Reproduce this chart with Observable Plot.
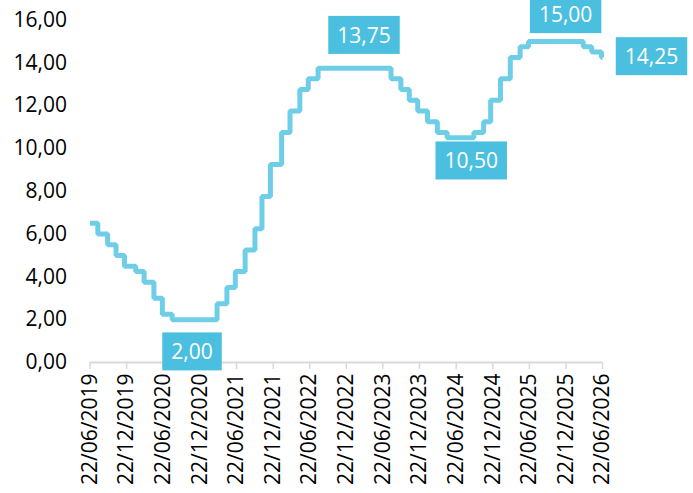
<!DOCTYPE html>
<html>
<head>
<meta charset="utf-8">
<script src="https://cdn.jsdelivr.net/npm/d3@7"></script>
<script src="https://cdn.jsdelivr.net/npm/@observablehq/plot@0.6"></script>
<style>
  html, body { margin: 0; padding: 0; background: #fff; }
  #chart { width: 693px; height: 493px; }
</style>
</head>
<body>
<div id="chart"></div>
<script>
// Selic rate change dates (step-after) and values (%)
const changeDates = [
  "2019-06-22","2019-07-31","2019-09-18","2019-10-30","2019-12-11",
  "2020-02-05","2020-03-18","2020-05-06","2020-06-17","2020-08-05",
  "2021-03-17","2021-05-05","2021-06-16","2021-08-04","2021-09-22",
  "2021-10-27","2021-12-08","2022-02-02","2022-03-16","2022-05-04",
  "2022-06-15","2022-08-03","2023-08-02","2023-09-20","2023-11-01",
  "2023-12-13","2024-01-31","2024-03-20","2024-05-08","2024-09-18",
  "2024-11-06","2024-12-11","2025-01-29","2025-03-19","2025-05-07",
  "2025-06-18","2026-03-18","2026-04-29","2026-06-17","2026-06-22"
];
const rates = [
  6.50, 6.00, 5.50, 5.00, 4.50,
  4.25, 3.75, 3.00, 2.25, 2.00,
  2.75, 3.50, 4.25, 5.25, 6.25,
  7.75, 9.25, 10.75, 11.75, 12.75,
  13.25, 13.75, 13.25, 12.75, 12.25,
  11.75, 11.25, 10.75, 10.50, 10.75,
  11.25, 12.25, 13.25, 14.25, 14.75,
  15.00, 14.75, 14.50, 14.25, 14.25
];

// x-axis ticks
const tickDates = [
  "2019-06-22","2019-12-22","2020-06-22","2020-12-22","2021-06-22",
  "2021-12-22","2022-06-22","2022-12-22","2023-06-22","2023-12-22",
  "2024-06-22","2024-12-22","2025-06-22","2025-12-22","2026-06-22"
];
const yTicks = [0, 2, 4, 6, 8, 10, 12, 14, 16];

// highlighted value labels
const labelDates = ["2020-11-12", "2023-03-20", "2024-09-05", "2025-12-20", "2026-06-22"];
const labelValues = [2.00, 13.75, 10.50, 15.00, 14.25];
const labelDy = [33, -32, 24, -26, 0];
const labelDx = [0, 0, 0, 0, 49];

const parse = d3.utcParse("%Y-%m-%d");
const fmtDate = d3.utcFormat("%d/%m/%Y");
const fmtNum = v => v.toFixed(2).replace(".", ",");

const series = changeDates.map((d, i) => ({date: parse(d), rate: rates[i]}));
const labels = labelDates.map((d, i) => ({date: parse(d), value: labelValues[i], dx: labelDx[i], dy: labelDy[i]}));

const lineColor = "#6FCEE7";
const boxColor = "#4BBFDF";
const font = "'Open Sans', Lato, sans-serif";

const makeLabelMark = (d) => Plot.text([d], {
  x: "date", y: "value",
  text: v => fmtNum(v.value),
  dx: d.dx, dy: d.dy,
  fill: "white",
  fontSize: 21
});

const plot = Plot.plot({
  width: 693,
  height: 493,
  marginLeft: 89.5,
  marginRight: 91,
  marginTop: 19.5,
  marginBottom: 131,
  style: {fontFamily: font, fontSize: "21px", color: "#000", background: "white"},
  x: {
    type: "utc",
    domain: [parse(tickDates[0]), parse(tickDates[tickDates.length - 1])],
    label: null,
    axis: null
  },
  y: {
    domain: [0, 16],
    ticks: yTicks,
    tickFormat: fmtNum,
    tickSize: 0,
    tickPadding: 23,
    label: null
  },
  marks: [
    Plot.axisX({
      ticks: tickDates.map(parse),
      tickFormat: fmtDate,
      tickRotate: -90,
      tickSize: 7,
      tickPadding: 4,
      stroke: "#d9d9d9",
      strokeWidth: 1.5,
      strokeOpacity: 1,
      fill: "#000",
      fontSize: 21,
      label: null
    }),
    Plot.ruleY([0], {stroke: "#d9d9d9", strokeWidth: 2}),
    Plot.line(series, {x: "date", y: "rate", curve: "step-after", stroke: lineColor, strokeWidth: 5, strokeLinejoin: "miter", strokeLinecap: "butt"}),
    ...labels.map(makeLabelMark)
  ]
});

document.getElementById("chart").appendChild(plot);

// Draw boxes behind the value labels, sized from each text's own box
const svgNS = "http://www.w3.org/2000/svg";
plot.querySelectorAll('g[aria-label="text"] text').forEach(t => {
  const b = t.getBBox();
  const w = b.width + 18, h = 38;
  const cx = b.x + b.width / 2;
  const cy = b.y + b.height / 2;
  const r = document.createElementNS(svgNS, "rect");
  r.setAttribute("x", cx - w / 2);
  r.setAttribute("y", cy - h / 2);
  r.setAttribute("width", w);
  r.setAttribute("height", h);
  r.setAttribute("fill", boxColor);
  const tr = t.getAttribute("transform");
  if (tr) r.setAttribute("transform", tr);
  t.parentNode.insertBefore(r, t);
});
</script>
</body>
</html>
